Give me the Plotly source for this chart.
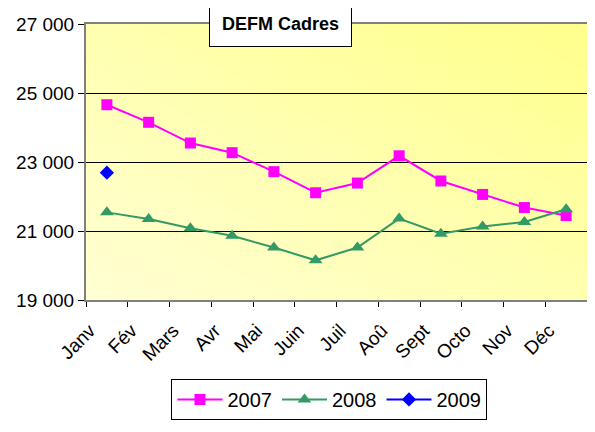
import base64
import struct
import zlib
import plotly.graph_objects as go

months = ["Janv", "Fév", "Mars", "Avr", "Mai", "Juin", "Juil", "Aoû", "Sept", "Octo", "Nov", "Déc"]
s2007 = [24660, 24150, 23550, 23270, 22720, 22110, 22390, 23180, 22450, 22060, 21680, 21450]
s2008 = [21540, 21350, 21080, 20860, 20520, 20150, 20520, 21360, 20920, 21130, 21260, 21630]
s2009 = [22690]
y_ticks = [19000, 21000, 23000, 25000, 27000]
y_labels = ["19 000", "21 000", "23 000", "25 000", "27 000"]

FONT = "Liberation Sans, Arial, sans-serif"


def gradient_png(w=64, h=64):
    # diagonal gradient: bottom-left pale, top-right saturated yellow
    rows = b""
    for j in range(h):
        row = b"\x00"
        for i in range(w):
            t = (i / (w - 1) + (1 - j / (h - 1))) / 2.0
            b = int(round(0xD4 + (0x8C - 0xD4) * t))
            row += bytes([255, 255, b])
        rows += row

    def chunk(tag, data):
        c = struct.pack(">I", len(data)) + tag + data
        return c + struct.pack(">I", zlib.crc32(tag + data) & 0xFFFFFFFF)

    png = b"\x89PNG\r\n\x1a\n"
    png += chunk(b"IHDR", struct.pack(">IIBBBBB", w, h, 8, 2, 0, 0, 0))
    png += chunk(b"IDAT", zlib.compress(rows))
    png += chunk(b"IEND", b"")
    return "data:image/png;base64," + base64.b64encode(png).decode()


fig = go.Figure()
fig.add_trace(go.Scatter(x=months, y=s2007, name="2007", mode="lines+markers",
                         line=dict(color="#FF00FF", width=2),
                         marker=dict(symbol="square", size=11, color="#FF00FF")))
fig.add_trace(go.Scatter(x=months, y=s2008, name="2008", mode="lines+markers",
                         line=dict(color="#339966", width=2),
                         marker=dict(symbol="triangle-up", size=12, color="#339966")))
fig.add_trace(go.Scatter(x=months[:1], y=s2009, name="2009", mode="lines+markers",
                         line=dict(color="#0000FF", width=2),
                         marker=dict(symbol="diamond", size=11, color="#0000FF")))

fig.update_layout(
    width=587, height=424,
    margin=dict(l=78, r=8, t=16, b=132),
    paper_bgcolor="white",
    plot_bgcolor="#FFFFAC",
    font=dict(family=FONT, size=18, color="black"),
    showlegend=True,
    legend=dict(orientation="h", x=0.486, xanchor="center", y=-0.286, yanchor="top",
                bordercolor="black", borderwidth=1, bgcolor="white", itemwidth=45,
                font=dict(size=20, family=FONT), tracegroupgap=0),
    xaxis=dict(type="category", range=[-0.5, 11.5], tickson="boundaries",
               ticks="outside", ticklen=5, tickcolor="black", tickangle=-45,
               ticklabelshift=-17, ticklabelstandoff=10,
               showline=True, linecolor="#808080", linewidth=2, mirror=True,
               showgrid=False, automargin=False, tickfont=dict(size=19, family=FONT)),
    yaxis=dict(range=[19000, 27000], tickvals=y_ticks, ticktext=y_labels,
               ticks="outside", ticklen=6, tickcolor="black", ticklabelstandoff=0,
               showline=True, linecolor="#808080", linewidth=2, mirror=True,
               showgrid=True, gridcolor="black", gridwidth=1, zeroline=False,
               automargin=False, tickfont=dict(size=19, family=FONT)),
    images=[dict(source=gradient_png(), xref="paper", yref="paper", x=0, y=1,
                 sizex=1, sizey=1, xanchor="left", yanchor="top",
                 sizing="stretch", layer="below")],
    annotations=[dict(text="<b>DEFM Cadres</b>", xref="paper", yref="paper",
                      x=0.389, y=1.0, xanchor="center", yanchor="middle",
                      showarrow=False, bgcolor="white", bordercolor="black",
                      borderwidth=1, borderpad=12, font=dict(size=18, family=FONT))],
)

fig.write_html("out.html")
